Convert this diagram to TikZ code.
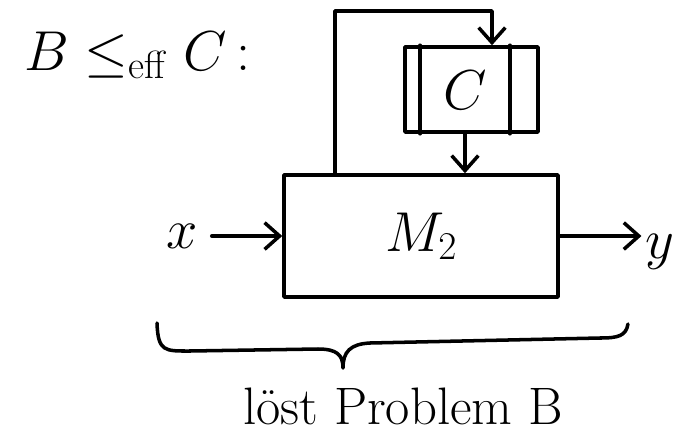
\RequirePackage{fix-cm}
\documentclass[tikz,border=0pt]{standalone}
\usetikzlibrary{arrows.meta,positioning}
\begin{document}
\begin{tikzpicture}[
  x=0.03cm, y=-0.03cm,
  line width=3pt, line cap=round, line join=round,
  box/.style={
    draw, line width=3pt,
    inner sep=0pt
  },
  machine/.style={box,
    minimum width=8.22cm, minimum height=3.66cm},
  oracle/.style={box,
    minimum width=3.99cm, minimum height=2.55cm},
  label/.style={
    font=\fontsize{48}{56}\selectfont,
    inner sep=2pt},
  arrow/.style={
    -{Straight Barb[length=4.5mm, width=8mm]},
    line width=3pt}
]
\useasboundingbox (0,0) rectangle (687,437);

\node[label, anchor=base west,
  font=\fontsize{48}{56}\selectfont] (title) at (20,70)
  {$B \leq_{\mathrm{eff}} C$\,:};

\node[machine, label] (m2) at (421,236) {$M_2$};
\node[oracle] (c) at (471.5,89.5) {};
\node[label] (cname) at (465,90) {$C$};
\draw ([xshift=0.51cm]c.north west) -- ([xshift=0.51cm]c.south west);
\draw ([xshift=-0.9cm]c.north east) -- ([xshift=-0.9cm]c.south east);

% loop from M2 back to the oracle
\coordinate (loopL) at (335,11);
\coordinate (loopR) at (492,11);
\draw[arrow] (m2.north -| loopL) -- (loopL) -- (loopR)
  -- (c.north -| loopR);
\draw[arrow] (c.south -| cname) -- (m2.north -| cname);

\node[label] (x) at (182,236) {$x$};
\node[label] (y) at (660,252) {$y$};
\draw[arrow, shorten <=0.3cm] (x.east) -- (x.east -| m2.west);
\draw[arrow] (m2.east) -- (m2.east -| y.west);

% brace under the whole picture
\coordinate (braceL) at (157,323);
\coordinate (braceTip) at (343,368);
\coordinate (braceR) at (628,324);
\draw (braceL) .. controls (158,352) and (165,351) .. (190,351)
  -- (318,349) .. controls (337,349) and (343,355) .. (braceTip)
  .. controls (343,352) and (350,344) .. (370,343)
  -- (600,338) .. controls (618,338) and (626,336) .. (braceR);

\node[label, font=\fontsize{45}{52}\selectfont] (task) at (403,406)
  {löst Problem B};
\end{tikzpicture}
\end{document}
